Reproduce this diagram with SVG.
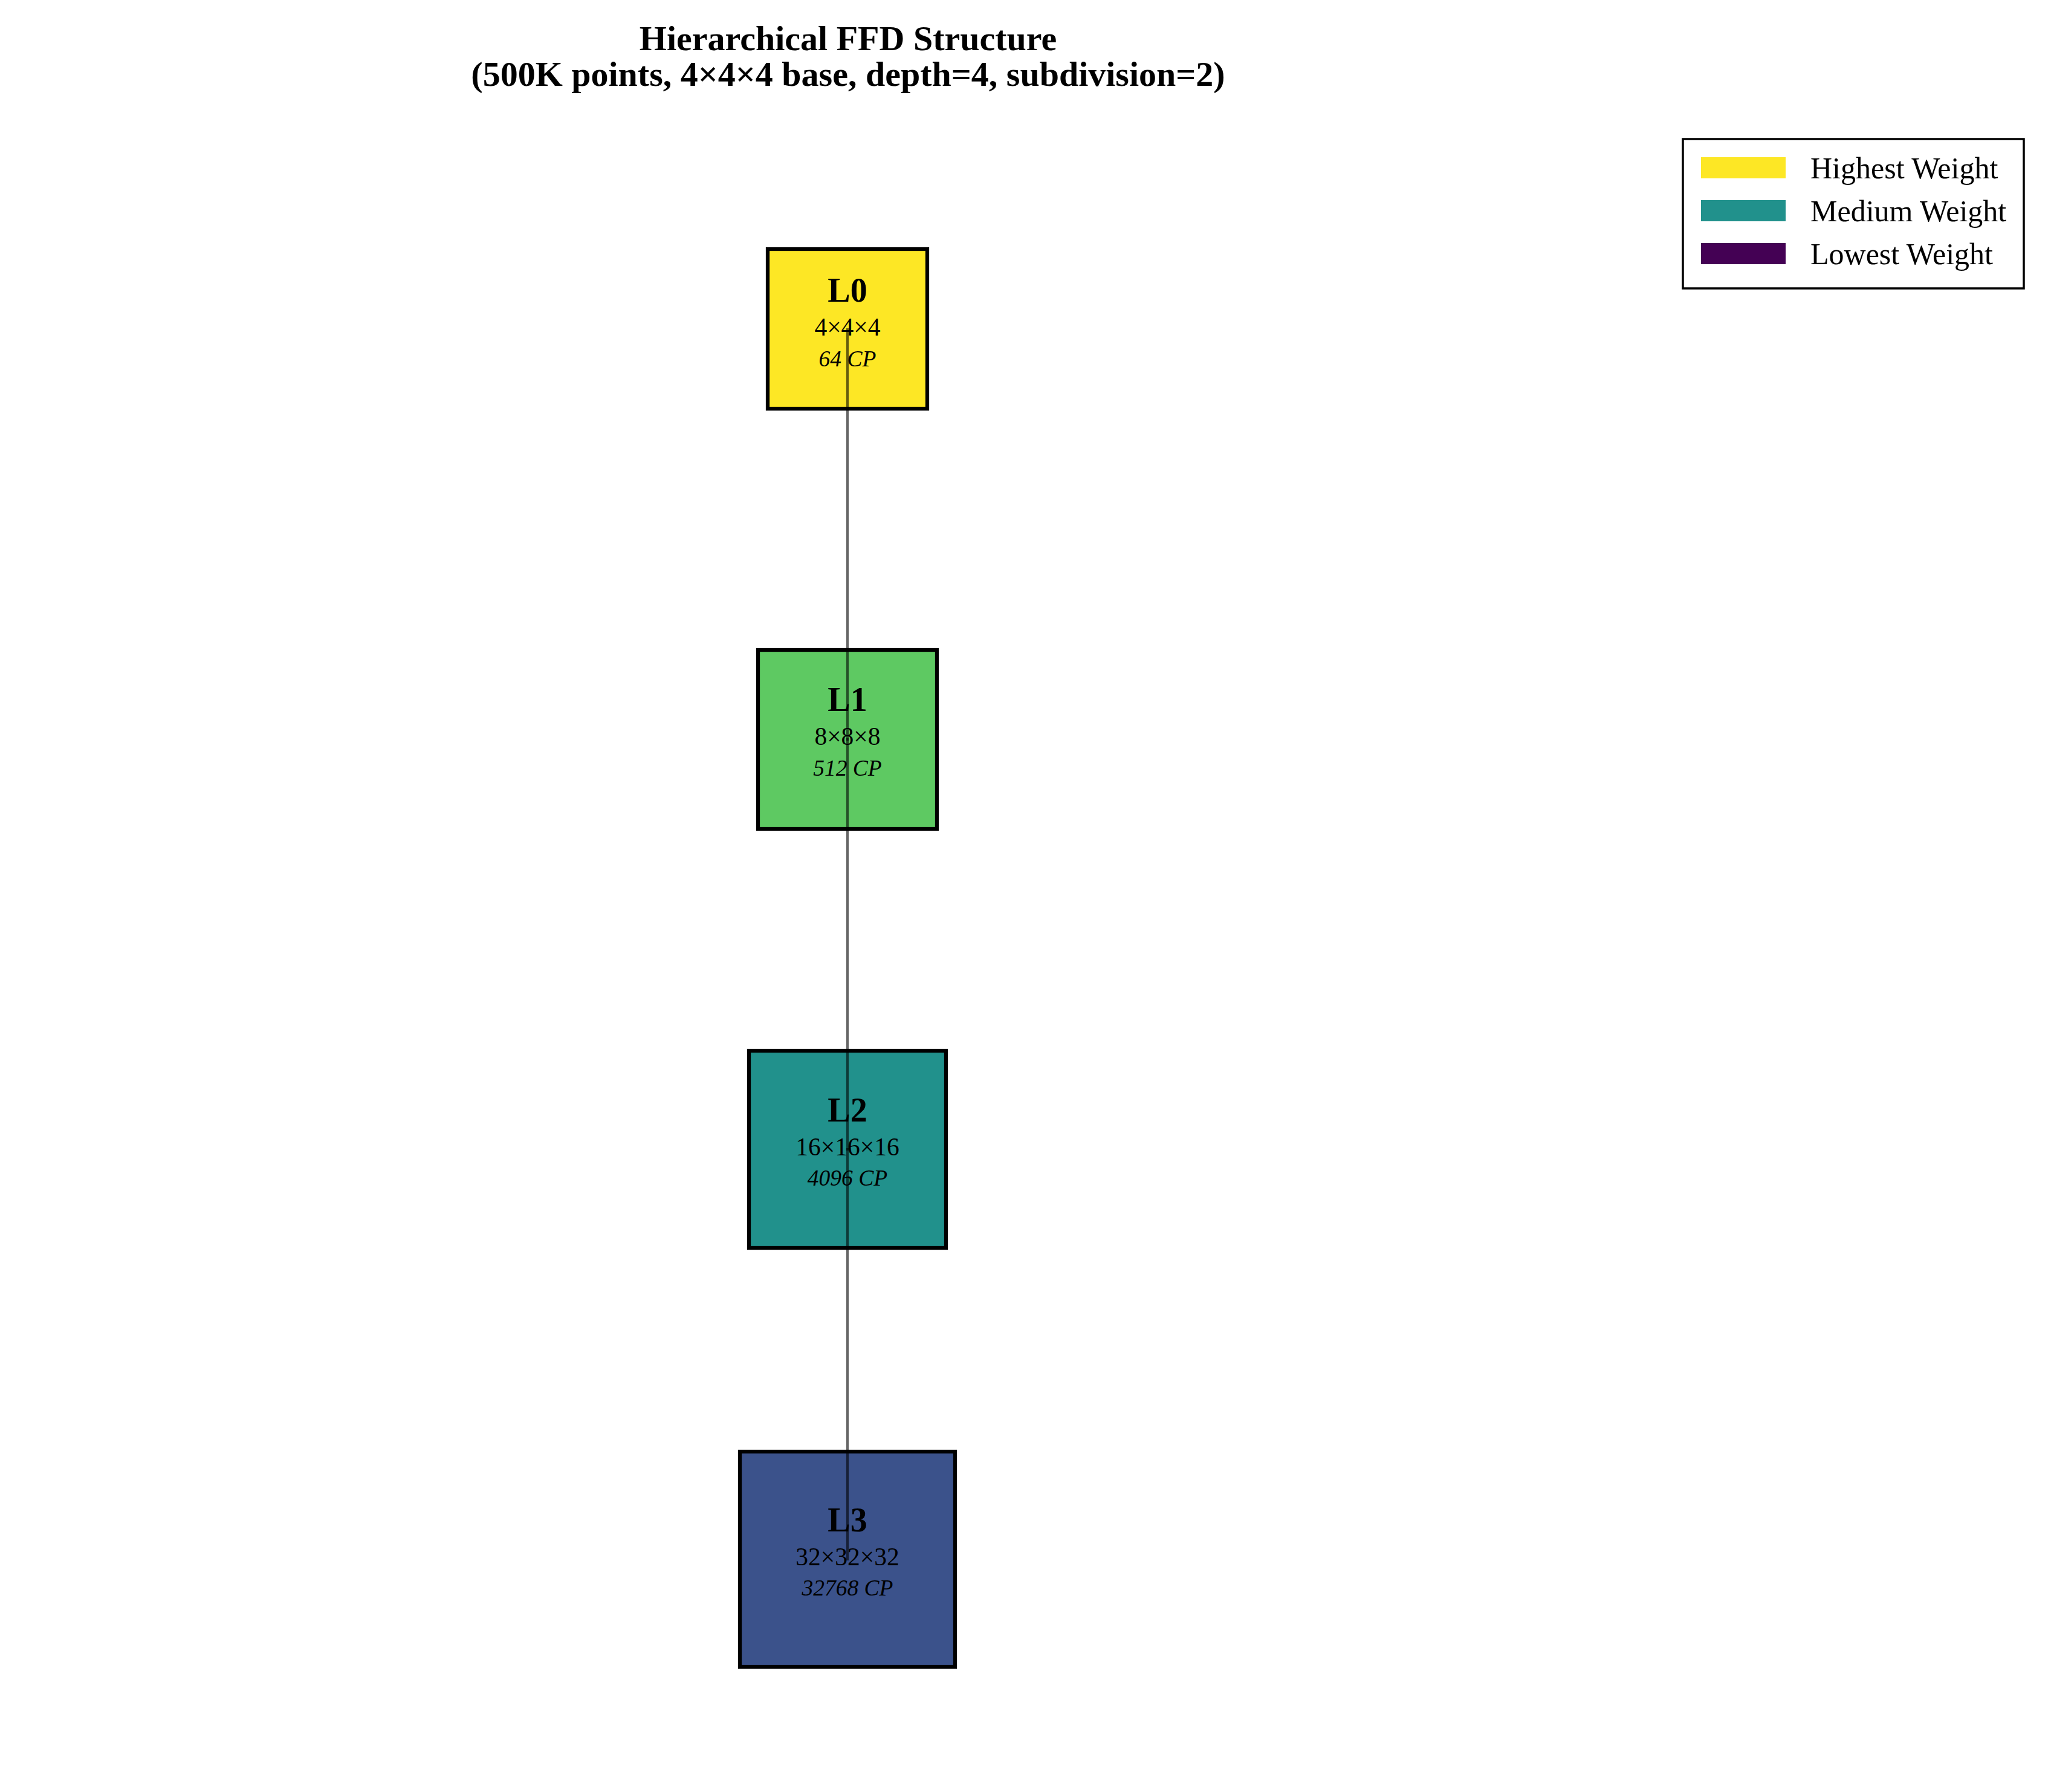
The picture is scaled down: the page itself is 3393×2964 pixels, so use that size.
<svg xmlns="http://www.w3.org/2000/svg" width="3393" height="2964" viewBox="0 0 3393 2964">
<style>
.title{font-family:"Liberation Serif","Times New Roman",serif;font-weight:bold;font-size:58px;text-anchor:middle;fill:#000}
.box{stroke:#000;stroke-width:6.25}
.lbl{font-family:"Liberation Serif","Times New Roman",serif;font-weight:bold;font-size:56px;text-anchor:middle;fill:#000}
.dim{font-family:"Liberation Serif","Times New Roman",serif;font-size:41.5px;text-anchor:middle;fill:#000}
.cp{font-family:"Liberation Serif","Times New Roman",serif;font-style:italic;font-size:37.5px;text-anchor:middle;fill:#000}
.conn{stroke:#000;stroke-opacity:0.6;stroke-width:4.2;stroke-linecap:square;fill:none}
.leg{font-family:"Liberation Serif","Times New Roman",serif;font-size:50px;fill:#000}
</style>
<rect x="0" y="0" width="3393" height="2964" fill="#fff"/>
<g id="title">
<text class="title" x="1403" y="83">Hierarchical FFD Structure</text>
<text class="title" x="1403" y="142">(500K points, 4×4×4 base, depth=4, subdivision=2)</text>
</g>
<g id="L0">
<rect class="box" x="1270" y="412" width="264" height="264" fill="#fde725"/>
<text class="lbl" x="1402" y="499">L0</text>
<text class="dim" x="1402" y="555">4×4×4</text>
<text class="cp" x="1402" y="606">64 CP</text>
</g>
<g id="L1">
<rect class="box" x="1254" y="1075" width="296" height="296" fill="#5ec962"/>
<text class="lbl" x="1402" y="1176">L1</text>
<text class="dim" x="1402" y="1232">8×8×8</text>
<text class="cp" x="1402" y="1283">512 CP</text>
</g>
<g id="L2">
<rect class="box" x="1239" y="1738" width="326" height="326" fill="#21918c"/>
<text class="lbl" x="1402" y="1855">L2</text>
<text class="dim" x="1402" y="1911">16×16×16</text>
<text class="cp" x="1402" y="1961">4096 CP</text>
</g>
<g id="L3">
<rect class="box" x="1224" y="2401" width="356" height="356" fill="#3b528b"/>
<text class="lbl" x="1402" y="2533">L3</text>
<text class="dim" x="1402" y="2589">32×32×32</text>
<text class="cp" x="1402" y="2639">32768 CP</text>
</g>
<g id="connectors">
<line class="conn" x1="1402" y1="545" x2="1402" y2="1223"/>
<line class="conn" x1="1402" y1="1223" x2="1402" y2="1901"/>
<line class="conn" x1="1402" y1="1901" x2="1402" y2="2579"/>
</g>
<g id="legend">
<rect x="2784" y="230" width="564" height="247" fill="#fff" stroke="#000" stroke-width="3.5"/>
<rect x="2814" y="260" width="140" height="35" fill="#fde725"/>
<rect x="2814" y="331" width="140" height="35" fill="#21918c"/>
<rect x="2814" y="402" width="140" height="35" fill="#440154"/>
<text class="leg" x="2995" y="295">Highest Weight</text>
<text class="leg" x="2995" y="366">Medium Weight</text>
<text class="leg" x="2995" y="437">Lowest Weight</text>
</g>
</svg>
